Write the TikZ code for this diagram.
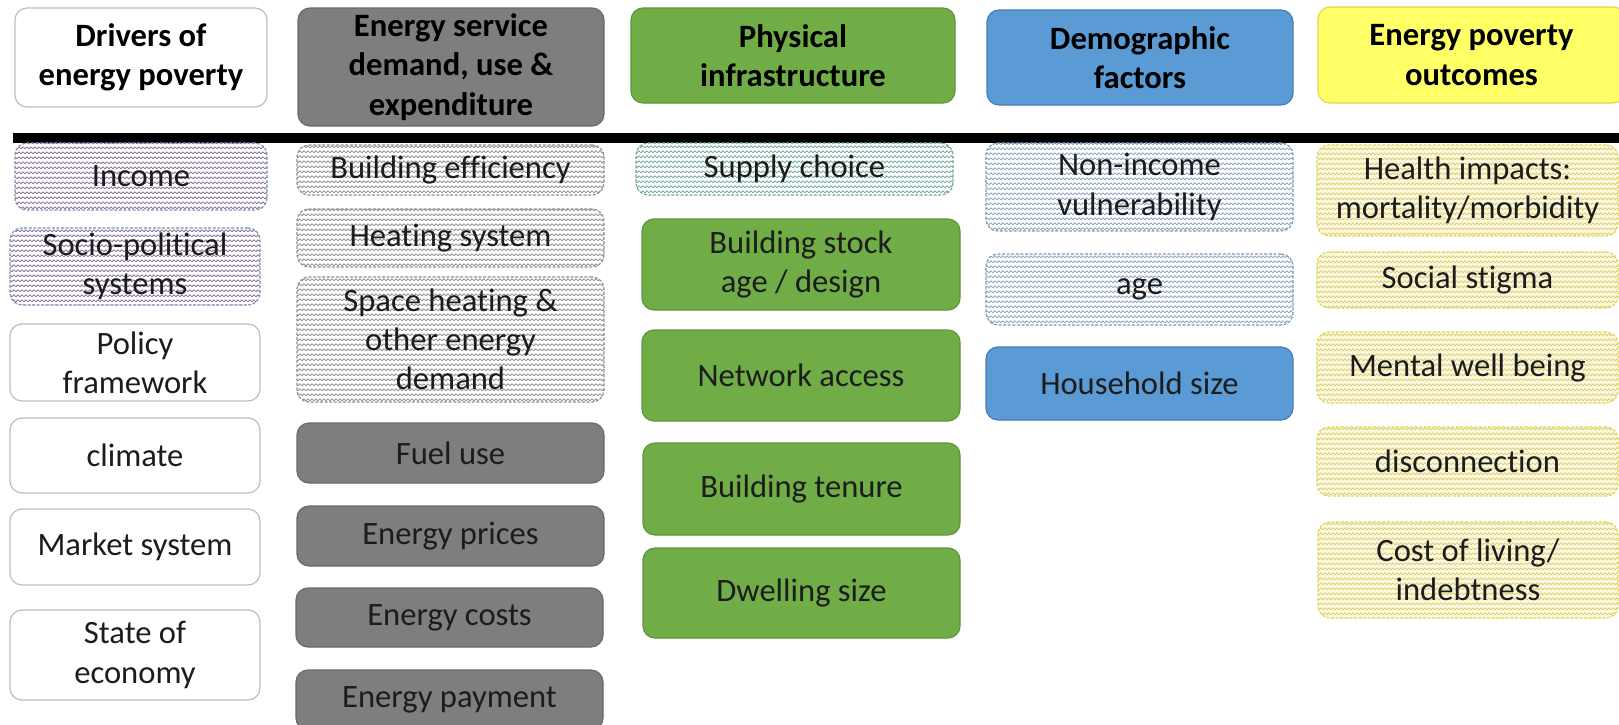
\documentclass[tikz,border=0pt]{standalone}
\usepackage{fontspec}
\setmainfont{Carlito}[Ligatures=NoCommon]
\usetikzlibrary{patterns}

% wavy fill used by the hatched boxes
\pgfdeclarepatternformonly{zigzag}{\pgfqpoint{0pt}{0pt}}{\pgfqpoint{2.2pt}{2.6pt}}{\pgfqpoint{2.2pt}{2.6pt}}{
  \pgfsetlinewidth{0.45pt}
  \pgfpathmoveto{\pgfqpoint{0pt}{0.7pt}}
  \pgfpathlineto{\pgfqpoint{1.1pt}{1.8pt}}
  \pgfpathlineto{\pgfqpoint{2.2pt}{0.7pt}}
  \pgfusepath{stroke}
}

\definecolor{txtcol}{RGB}{28,28,28}
\definecolor{edgegrey}{RGB}{190,190,190}
\definecolor{servgrey}{RGB}{125,127,124}
\definecolor{servedge}{RGB}{105,107,104}
\definecolor{infragreen}{RGB}{112,173,71}
\definecolor{infraedge}{RGB}{95,150,60}
\definecolor{demoblue}{RGB}{91,155,213}
\definecolor{demoedge}{RGB}{70,125,180}
\definecolor{outyellow}{RGB}{255,255,102}
\definecolor{outedge}{RGB}{225,215,80}
\definecolor{purpwave}{RGB}{135,115,155}
\definecolor{purpedge}{RGB}{128,146,178}
\definecolor{greywave}{RGB}{145,145,145}
\definecolor{tealwave}{RGB}{112,172,160}
\definecolor{tealedge}{RGB}{120,172,130}
\definecolor{bluewave}{RGB}{140,165,192}
\definecolor{bluedge}{RGB}{128,154,180}
\definecolor{yelwave}{RGB}{222,206,120}
\definecolor{yelbg}{RGB}{252,248,222}

\tikzset{
  box/.style={rectangle, rounded corners=6pt, inner sep=0pt, align=center, text=txtcol,
    line width=0.6pt, font=\fontsize{16.3}{19.6}\selectfont},
  size/.style 2 args={minimum width=#1pt, minimum height=#2pt},
  headbox/.style={box, text=black, font=\fontsize{16.3}{19.6}\selectfont\bfseries},
  plainbox/.style={draw=edgegrey, fill=white},
  servbox/.style={draw=servedge, fill=servgrey},
  infrabox/.style={draw=infraedge, fill=infragreen},
  demobox/.style={draw=demoedge, fill=demoblue},
  wavebox/.style 2 args={preaction={fill=#2}, pattern=zigzag, pattern color=#1,
    dash pattern=on 1.5pt off 0.8pt},
  purpbox/.style={wavebox={purpwave}{white}, draw=purpedge},
  greybox/.style={wavebox={greywave}{white}, draw=greywave},
  tealbox/.style={wavebox={tealwave}{white}, draw=tealedge},
  bluebox/.style={wavebox={bluewave}{white}, draw=bluedge},
  yelbox/.style={wavebox={yelwave}{yelbg}, draw=outedge}
}

\begin{document}
\begin{tikzpicture}[x=0.5pt,y=0.5pt,yscale=-1]
  \clip (0,0) rectangle (1619,724);
  \fill[white] (0,0) rectangle (1619,724);

  % Header row
  \node[headbox, plainbox, size={126}{49.5}] (drivers) at (141,57.5) {Drivers of\\energy poverty};
  \node[headbox, servbox, size={153}{59}] (service) at (451,67) {Energy service\\demand, use \&\\expenditure};
  \node[headbox, infrabox, size={162}{47.5}] (physical) at (793,55.5) {Physical\\infrastructure};
  \node[headbox, demobox, size={153}{47.5}] (demographic) at (1140,57.5) {Demographic\\factors};
  \node[headbox, fill=outyellow, draw=outedge, size={153.5}{48}] (outcomes) at (1471.5,55) {Energy poverty\\outcomes};

  % Divider
  \draw[line width=5pt] (13,137.5) -- (1619,137.5);

  % Drivers column
  \node[box, purpbox, size={126}{33.5}] (income) at (141,176.5) {Income};
  \node[box, purpbox, size={125}{38.5}] (sociopol) at (135,266.5) {Socio-political\\systems};
  \node[box, plainbox, size={125}{38.5}] (policy) at (135,362.5) {Policy\\framework};
  \node[box, plainbox, size={125}{37.5}] (climate) at (135,455.5) {climate};
  \node[box, plainbox, size={125}{38}] (market) at (135,547) {Market system};
  \node[box, plainbox, size={125}{45}] (economy) at (135,655) {State of\\economy};

  % Service column
  \node[box, greybox, size={153.5}{25}] (efficiency) at (450.5,170) {Building efficiency};
  \node[box, greybox, size={153.5}{29}] (heating) at (450.5,238) {Heating system};
  \node[box, greybox, size={153.5}{62.5}] (spaceheat) at (450.5,339.5) {Space heating \&\\other energy\\demand};
  \node[box, servbox, size={153.5}{30}] (fuel) at (450.5,453) {Fuel use};
  \node[box, servbox, size={153.5}{30}] (prices) at (450.5,536) {Energy prices};
  \node[box, servbox, size={153.5}{29.5}] (costs) at (449.5,617.5) {Energy costs};
  \node[box, servbox, size={153.5}{30}] (payment) at (449.5,700) {Energy payment};

  % Infrastructure column
  \node[box, tealbox, size={158.5}{26}] (supply) at (794.5,169) {Supply choice};
  \node[box, infrabox, size={159}{45.5}] (stock) at (801,264.5) {Building stock\\age / design};
  \node[box, infrabox, size={159}{45.5}] (network) at (801,375.5) {Network access};
  \node[box, infrabox, size={158.5}{46}] (tenure) at (801.5,489) {Building tenure};
  \node[box, infrabox, size={158.5}{45}] (dwelling) at (801.5,593) {Dwelling size};

  % Demographic column
  \node[box, bluebox, size={153.5}{44}] (nonincome) at (1139.5,187) {Non-income\\vulnerability};
  \node[box, bluebox, size={153.5}{35.5}] (age) at (1139.5,289.5) {age};
  \node[box, demobox, size={153.5}{36.5}] (household) at (1139.5,383.5) {Household size};

  % Outcomes column
  \node[box, yelbox, size={150.5}{45.5}] (health) at (1467.5,190.5) {Health impacts:\\mortality/morbidity};
  \node[box, yelbox, size={150.5}{28}] (stigma) at (1467.5,280) {Social stigma};
  \node[box, yelbox, size={150.5}{35.5}] (mental) at (1467.5,367.5) {Mental well being};
  \node[box, yelbox, size={150.5}{34.5}] (disconnect) at (1467.5,461.5) {disconnection};
  \node[box, yelbox, size={150}{48}] (living) at (1468,570) {Cost of living/\\indebtness};
\end{tikzpicture}
\end{document}
